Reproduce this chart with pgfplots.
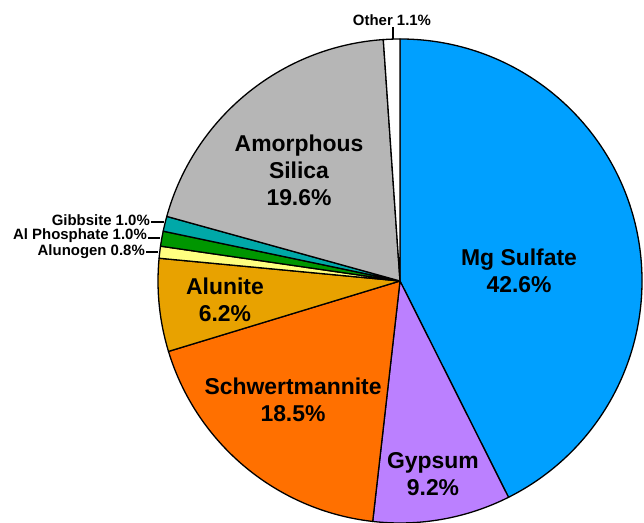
\documentclass[border=0pt]{standalone}
\usepackage{pgfplots}
\usepackage{pgfplotstable}
\pgfplotsset{compat=1.18}
\usepackage{fontspec}
\setmainfont{Liberation Sans}
\definecolor{cMg}{RGB}{0,160,255}
\definecolor{cGyp}{RGB}{187,128,255}
\definecolor{cSch}{RGB}{255,112,0}
\definecolor{cAlu}{RGB}{232,162,0}
\definecolor{cAlg}{RGB}{255,255,128}
\definecolor{cAlP}{RGB}{0,150,0}
\definecolor{cGib}{RGB}{0,168,168}
\definecolor{cSil}{RGB}{182,182,182}
\definecolor{cOth}{RGB}{255,255,255}
\pgfplotstableread[col sep=comma]{
name,value,col
Mg Sulfate,42.6,cMg
Gypsum,9.2,cGyp
Schwertmannite,18.5,cSch
Alunite,6.2,cAlu
Alunogen,0.8,cAlg
Al Phosphate,1.0,cAlP
Gibbsite,1.0,cGib
Amorphous Silica,19.6,cSil
Other,1.1,cOth
}\piedata
\begin{document}
\begin{tikzpicture}
\begin{axis}[hide axis, x=1bp, y=1bp, xmin=0, xmax=644, ymin=0, ymax=523,
  clip=false]
\pgfplotsextra{
  \pgfplotstablegetrowsof{\piedata}\pgfmathtruncatemacro\last{\pgfplotsretval-1}
  \xdef\cum{0}
  \foreach \i in {0,...,\last}{
    \pgfplotstablegetelem{\i}{value}\of\piedata \let\v\pgfplotsretval
    \pgfplotstablegetelem{\i}{col}\of\piedata \let\c\pgfplotsretval
    \pgfmathsetmacro\a{90-3.6*\cum}
    \pgfmathsetmacro\b{90-3.6*(\cum+\v)}
    \filldraw[fill=\c, draw=black, line width=1.3bp, line join=round]
      (axis cs:400,242) -- ++(\a:242bp) arc[start angle=\a, end angle=\b, radius=242bp] -- cycle;
    \pgfmathsetmacro\cumn{\cum+\v}\xdef\cum{\cumn}
  }
}
\begin{scope}[every node/.style={font=\fontsize{23}{27}\selectfont\bfseries, align=center}]
\node at (axis cs:519,252) {Mg Sulfate\\42.6\%};
\node at (axis cs:433,49) {Gypsum\\9.2\%};
\node at (axis cs:293,123) {Schwertmannite\\18.5\%};
\node at (axis cs:225,223) {Alunite\\6.2\%};
\node at (axis cs:299,353) {Amorphous\\Silica\\19.6\%};
\end{scope}
\begin{scope}[every node/.style={font=\fontsize{15}{16}\selectfont\bfseries, inner sep=0pt}]
\node[anchor=south] at (axis cs:392,497) {Other 1.1\%};
\draw[line width=1.2bp] (axis cs:393,496) -- (axis cs:393,484);
\node[anchor=east] at (axis cs:150,303) {Gibbsite 1.0\%};
\draw[line width=1.2bp] (axis cs:151,301) -- (axis cs:164,301);
\node[anchor=east] at (axis cs:147,287) {Al Phosphate 1.0\%};
\draw[line width=1.2bp] (axis cs:148,285) -- (axis cs:160,285);
\node[anchor=east] at (axis cs:145,271) {Alunogen 0.8\%};
\draw[line width=1.2bp] (axis cs:146,271) -- (axis cs:158,271);
\end{scope}
\end{axis}
\pgfresetboundingbox
\path (current axis.south west) rectangle (current axis.north east);
\end{tikzpicture}
\end{document}
